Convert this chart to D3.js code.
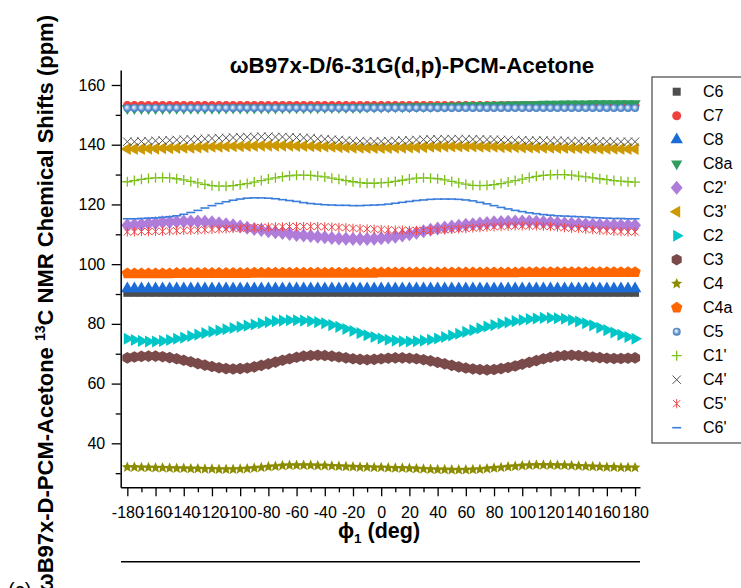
<!DOCTYPE html>
<html>
<head>
<meta charset="utf-8">
<script src="https://cdn.jsdelivr.net/npm/d3@7"></script>
<style>
  body { margin: 0; background: #fff; }
  svg { display: block; }
  text { font-family: "Liberation Sans", Arial, sans-serif; fill: #000; }
</style>
</head>
<body>
<svg id="chart" width="741" height="588"></svg>
<script>
// Torsion angle phi1 (deg)
const phi = [-180,-175,-170,-165,-160,-155,-150,-145,-140,-135,
  -130,-125,-120,-115,-110,-105,-100,-95,-90,-85,
  -80,-75,-70,-65,-60,-55,-50,-45,-40,-35,
  -30,-25,-20,-15,-10,-5,0,5,10,15,
  20,25,30,35,40,45,50,55,60,65,
  70,75,80,85,90,95,100,105,110,115,
  120,125,130,135,140,145,150,155,160,165,
  170,175,180];

const xTicks = [-180,-160,-140,-120,-100,-80,-60,-40,-20,0,20,40,60,80,100,120,140,160,180];
const xMinorTicks = [-170,-150,-130,-110,-90,-70,-50,-30,-10,10,30,50,70,90,110,130,150,170];
const yTicks = [40,60,80,100,120,140,160];
const yMinorTicks = [30,50,70,90,110,130,150];

const seriesNames = ["C6","C7","C8","C8a","C2'","C3'","C2","C3","C4","C4a","C5","C1'","C4'","C5'","C6'"];

// 13C shifts (ppm) for each carbon along the phi1 scan
const C6 = [90.4,90.4,90.4,90.4,90.4,90.4,90.4,90.4,90.4,90.4,
  90.4,90.4,90.4,90.4,90.4,90.4,90.4,90.4,90.4,90.4,
  90.4,90.4,90.4,90.4,90.4,90.4,90.4,90.4,90.4,90.4,
  90.4,90.4,90.4,90.4,90.4,90.4,90.4,90.4,90.4,90.4,
  90.4,90.4,90.4,90.4,90.4,90.4,90.4,90.4,90.4,90.4,
  90.4,90.4,90.4,90.4,90.4,90.4,90.4,90.4,90.4,90.4,
  90.4,90.4,90.4,90.4,90.4,90.4,90.4,90.4,90.4,90.4,
  90.4,90.4,90.4];
const C7 = [153.1,153.1,153.1,153.1,153.1,153.1,153.1,153.1,153.1,153.1,
  153.1,153.1,153.1,153.1,153.1,153.1,153.1,153.1,153.1,153.1,
  153.1,153.1,153.1,153.1,153.1,153.1,153.1,153.1,153.1,153.1,
  153.1,153.1,153.1,153.1,153.1,153.1,153.1,153.1,153.1,153.1,
  153.1,153.1,153.1,153.1,153.1,153.1,153.1,153.1,153.1,153.1,
  153.1,153.1,153.1,153.1,153.1,153.1,153.1,153.1,153.1,153.1,
  153.1,153.1,153.1,153.1,153.1,153.1,153.1,153.1,153.1,153.1,
  153.1,153.1,153.1];
const C8 = [91.8,91.8,91.8,91.8,91.8,91.8,91.8,91.8,91.8,91.8,
  91.8,91.8,91.8,91.8,91.8,91.8,91.8,91.8,91.8,91.8,
  91.8,91.8,91.8,91.8,91.8,91.8,91.8,91.8,91.8,91.8,
  91.8,91.8,91.8,91.8,91.8,91.8,91.8,91.8,91.8,91.8,
  91.8,91.8,91.8,91.8,91.8,91.8,91.8,91.8,91.8,91.8,
  91.8,91.8,91.8,91.8,91.8,91.8,91.8,91.8,91.8,91.8,
  91.8,91.8,91.8,91.8,91.8,91.8,91.8,91.8,91.8,91.8,
  91.8,91.8,91.8];
const C8a = [152.1,152.1,152.1,152.1,152.1,152.1,152.2,152.2,152.2,152.2,
  152.2,152.2,152.2,152.2,152.3,152.3,152.3,152.3,152.3,152.3,
  152.3,152.3,152.4,152.4,152.4,152.4,152.4,152.4,152.5,152.5,
  152.5,152.5,152.5,152.5,152.6,152.6,152.6,152.6,152.7,152.7,
  152.7,152.8,152.8,152.8,152.9,152.9,153.0,153.0,153.1,153.1,
  153.2,153.2,153.3,153.3,153.4,153.4,153.5,153.5,153.5,153.6,
  153.6,153.6,153.7,153.7,153.7,153.7,153.8,153.8,153.8,153.8,
  153.8,153.8,153.8];
const C2p = [113.0,113.2,113.4,113.6,113.8,114.0,114.1,114.2,114.3,114.3,
  114.3,114.2,114.0,113.7,113.4,113.0,112.6,112.2,111.8,111.4,
  111.0,110.7,110.4,110.1,109.8,109.6,109.4,109.2,109.0,108.8,
  108.6,108.5,108.4,108.4,108.4,108.5,108.7,108.9,109.2,109.6,
  110.0,110.5,111.0,111.5,111.9,112.3,112.6,112.9,113.2,113.4,
  113.6,113.8,114.0,114.1,114.2,114.3,114.3,114.3,114.2,114.1,
  114.0,113.9,113.7,113.6,113.5,113.4,113.3,113.2,113.1,113.1,
  113.0,113.0,113.0];
const C3p = [138.6,138.6,138.6,138.7,138.7,138.8,138.8,138.9,139.0,139.0,
  139.1,139.2,139.3,139.3,139.4,139.5,139.5,139.6,139.6,139.7,
  139.7,139.7,139.7,139.7,139.6,139.6,139.5,139.4,139.4,139.3,
  139.2,139.1,139.0,139.0,138.9,138.9,138.9,138.9,139.0,139.0,
  139.1,139.1,139.2,139.3,139.3,139.4,139.4,139.4,139.4,139.4,
  139.3,139.3,139.3,139.2,139.2,139.2,139.1,139.1,139.0,139.0,
  139.0,138.9,138.9,138.9,138.8,138.8,138.8,138.7,138.7,138.7,
  138.6,138.6,138.6];
const C2 = [75.0,74.6,74.3,74.1,74.1,74.3,74.6,75.0,75.4,75.9,
  76.4,76.9,77.4,77.8,78.2,78.6,79.0,79.4,79.8,80.2,
  80.6,80.9,81.1,81.2,81.2,81.1,80.9,80.6,80.2,79.6,
  79.0,78.3,77.6,76.9,76.2,75.6,75.1,74.7,74.4,74.2,
  74.1,74.2,74.4,74.7,75.1,75.6,76.1,76.7,77.3,77.9,
  78.5,79.1,79.6,80.1,80.5,80.9,81.3,81.6,81.8,82.0,
  82.0,81.9,81.7,81.3,80.8,80.2,79.5,78.7,77.9,77.1,
  76.3,75.6,75.0];
const C3 = [68.6,68.9,69.1,69.2,69.2,69.0,68.7,68.3,67.8,67.3,
  66.7,66.2,65.7,65.3,65.0,64.9,65.0,65.2,65.6,66.1,
  66.6,67.2,67.8,68.3,68.8,69.2,69.4,69.5,69.4,69.2,
  68.9,68.6,68.3,68.1,68.0,68.1,68.3,68.5,68.6,68.6,
  68.5,68.3,68.0,67.6,67.1,66.6,66.1,65.6,65.2,64.9,
  64.7,64.6,64.7,65.0,65.4,65.9,66.5,67.1,67.7,68.3,
  68.8,69.2,69.4,69.5,69.4,69.2,68.9,68.7,68.5,68.4,
  68.4,68.5,68.6];
const C4 = [32.0,32.0,31.9,31.9,31.8,31.8,31.7,31.6,31.6,31.5,
  31.5,31.4,31.4,31.3,31.3,31.3,31.4,31.5,31.7,31.9,
  32.1,32.3,32.5,32.6,32.6,32.6,32.6,32.5,32.5,32.4,
  32.3,32.2,32.1,32.0,32.0,31.9,31.9,31.8,31.7,31.7,
  31.6,31.5,31.4,31.3,31.2,31.2,31.1,31.1,31.1,31.2,
  31.3,31.5,31.7,31.9,32.1,32.3,32.5,32.6,32.7,32.7,
  32.7,32.6,32.6,32.5,32.4,32.3,32.2,32.1,32.0,32.0,
  31.9,31.9,31.9];
const C4a = [96.9,96.9,96.9,96.9,96.9,96.9,96.9,97.0,97.0,97.0,
  97.0,97.0,97.0,97.0,97.0,97.0,97.0,97.0,97.1,97.1,
  97.1,97.1,97.1,97.1,97.1,97.1,97.1,97.1,97.1,97.1,
  97.1,97.1,97.1,97.1,97.1,97.1,97.2,97.2,97.2,97.2,
  97.2,97.2,97.2,97.2,97.2,97.2,97.2,97.2,97.2,97.2,
  97.2,97.2,97.2,97.2,97.2,97.2,97.3,97.3,97.3,97.3,
  97.3,97.3,97.3,97.3,97.3,97.3,97.3,97.3,97.3,97.3,
  97.3,97.3,97.3];
const C5 = [152.3,152.3,152.3,152.3,152.3,152.3,152.3,152.3,152.3,152.3,
  152.3,152.3,152.3,152.3,152.3,152.3,152.3,152.3,152.3,152.3,
  152.3,152.3,152.3,152.3,152.3,152.3,152.3,152.3,152.3,152.3,
  152.3,152.3,152.3,152.3,152.3,152.3,152.3,152.3,152.3,152.3,
  152.3,152.3,152.3,152.3,152.3,152.3,152.3,152.3,152.3,152.3,
  152.3,152.3,152.3,152.3,152.3,152.3,152.3,152.3,152.3,152.3,
  152.3,152.3,152.3,152.3,152.3,152.3,152.3,152.3,152.3,152.3,
  152.3,152.3,152.3];
const C1p = [127.6,128.0,128.4,128.7,128.9,129.0,128.9,128.6,128.2,127.7,
  127.2,126.7,126.3,126.1,126.1,126.3,126.6,127.0,127.5,128.0,
  128.5,128.9,129.3,129.6,129.8,129.8,129.7,129.5,129.2,128.8,
  128.4,128.0,127.6,127.3,127.1,127.1,127.2,127.4,127.7,128.1,
  128.5,128.8,128.9,128.8,128.6,128.2,127.7,127.2,126.8,126.4,
  126.3,126.4,126.6,127.0,127.5,128.0,128.5,129.0,129.4,129.7,
  129.9,130.0,130.0,129.8,129.5,129.2,128.9,128.6,128.3,128.0,
  127.8,127.6,127.5];
const C4p = [141.0,141.0,141.1,141.2,141.3,141.4,141.5,141.6,141.7,141.8,
  141.9,142.0,142.1,142.2,142.3,142.4,142.5,142.6,142.6,142.7,
  142.7,142.6,142.6,142.5,142.4,142.3,142.2,142.0,141.9,141.7,
  141.6,141.4,141.3,141.2,141.1,141.1,141.1,141.2,141.3,141.4,
  141.5,141.6,141.7,141.8,141.8,141.9,141.9,141.9,141.9,141.8,
  141.8,141.7,141.7,141.6,141.6,141.5,141.5,141.4,141.4,141.4,
  141.3,141.3,141.3,141.2,141.2,141.2,141.1,141.1,141.1,141.0,
  141.0,141.0,141.0];
const C5p = [110.8,110.8,110.9,110.9,111.0,111.0,111.1,111.2,111.3,111.3,
  111.4,111.5,111.6,111.7,111.8,111.9,112.0,112.1,112.2,112.3,
  112.4,112.5,112.5,112.6,112.6,112.6,112.6,112.6,112.5,112.4,
  112.3,112.2,112.0,111.9,111.8,111.7,111.6,111.5,111.4,111.4,
  111.3,111.3,111.3,111.3,111.4,111.5,111.6,111.8,111.9,112.1,
  112.2,112.4,112.5,112.6,112.7,112.8,112.8,112.8,112.8,112.7,
  112.6,112.4,112.2,112.0,111.9,111.7,111.5,111.3,111.2,111.0,
  110.9,110.8,110.8];
const C6p = [115.2,115.2,115.3,115.4,115.5,115.7,115.9,116.2,116.7,117.3,
  118.0,118.8,119.6,120.3,120.9,121.4,121.8,122.1,122.2,122.2,
  122.1,121.9,121.6,121.3,121.0,120.6,120.3,120.1,119.9,119.8,
  119.7,119.7,119.6,119.6,119.7,119.8,119.9,120.1,120.4,120.7,
  121.0,121.3,121.5,121.7,121.8,121.8,121.8,121.7,121.5,121.2,
  120.7,120.2,119.6,119.0,118.5,118.0,117.6,117.2,116.9,116.6,
  116.4,116.2,116.1,116.0,115.9,115.8,115.6,115.5,115.4,115.3,
  115.3,115.2,115.2];

const seriesValues = [C6, C7, C8, C8a, C2p, C3p, C2, C3, C4, C4a, C5, C1p, C4p, C5p, C6p];

// Marker look for each series (same order as seriesNames)
const markerStyles = [
  { shape: "square",   size: 4,   fill: "#4d4d4d" },
  { shape: "circle",   size: 4.5, fill: "#f0413e" },
  { shape: "up",       size: 7.2, fill: "#1c6cd8" },
  { shape: "down",     size: 6.5, fill: "#2f9d5e" },
  { shape: "diamond",  size: 7,   fill: "#b07cda" },
  { shape: "left",     size: 7,   fill: "#cc9a00" },
  { shape: "right",    size: 7,   fill: "#00c6c8" },
  { shape: "hexagon",  size: 5.8, fill: "#7a4a4a" },
  { shape: "star",     size: 5.8, fill: "#8c8c00" },
  { shape: "pentagon", size: 6,   fill: "#ff6600" },
  { shape: "sphere",   size: 4,   fill: "url(#sphere)" },
  { shape: "plus",     size: 5,   stroke: "#7cc11a", width: 1.3 },
  { shape: "x",        size: 4.2, stroke: "#555555", width: 1 },
  { shape: "asterisk", size: 4.6, stroke: "#f04545", width: 1 },
  { shape: "dash",     size: 4.5, stroke: "#3b7ddd", width: 1.6 }
];

function polygon(n, R, rotDeg) {
  const p = d3.path();
  for (let k = 0; k < n; k++) {
    const a = (rotDeg + k * 360 / n) * Math.PI / 180;
    const px = R * Math.cos(a), py = R * Math.sin(a);
    if (k === 0) p.moveTo(px, py); else p.lineTo(px, py);
  }
  p.closePath();
  return p.toString();
}

function markerPath(shape, r) {
  const p = d3.path();
  switch (shape) {
    case "square": p.rect(-r, -r, 2 * r, 2 * r); return p.toString();
    case "circle":
    case "sphere": p.arc(0, 0, r, 0, 2 * Math.PI); return p.toString();
    case "up": return polygon(3, r, -90);
    case "down": return polygon(3, r, 90);
    case "left": return polygon(3, r, 180);
    case "right": return polygon(3, r, 0);
    case "hexagon": return polygon(6, r, -90);
    case "pentagon": return polygon(5, r, -90);
    case "diamond":
      p.moveTo(0, -r); p.lineTo(r * 0.85, 0); p.lineTo(0, r); p.lineTo(-r * 0.85, 0); p.closePath();
      return p.toString();
    case "star": {
      for (let k = 0; k < 10; k++) {
        const a = (-90 + k * 36) * Math.PI / 180;
        const rr = k % 2 === 0 ? r : r * 0.45;
        if (k === 0) p.moveTo(rr * Math.cos(a), rr * Math.sin(a));
        else p.lineTo(rr * Math.cos(a), rr * Math.sin(a));
      }
      p.closePath();
      return p.toString();
    }
    case "plus":
      p.moveTo(-r, 0); p.lineTo(r, 0); p.moveTo(0, -r); p.lineTo(0, r);
      return p.toString();
    case "x":
      p.moveTo(-r, -r); p.lineTo(r, r); p.moveTo(-r, r); p.lineTo(r, -r);
      return p.toString();
    case "asterisk": {
      const d = r * 0.78;
      p.moveTo(0, -r); p.lineTo(0, r);
      p.moveTo(-d, -d); p.lineTo(d, d); p.moveTo(-d, d); p.lineTo(d, -d);
      return p.toString();
    }
    case "dash":
      p.moveTo(-r, 0); p.lineTo(r, 0);
      return p.toString();
  }
}

function styleMarker(sel, st) {
  if (st.stroke) {
    sel.attr("fill", "none").attr("stroke", st.stroke).attr("stroke-width", st.width);
  } else {
    sel.attr("fill", st.fill).attr("stroke", "none");
  }
}

const svg = d3.select("#chart");

const defs = svg.append("defs");
const grad = defs.append("radialGradient").attr("id", "sphere")
  .attr("cx", "0.5").attr("cy", "0.5").attr("r", "0.55").attr("fx", "0.42").attr("fy", "0.4");
grad.append("stop").attr("offset", "0").attr("stop-color", "#ffffff");
grad.append("stop").attr("offset", "0.3").attr("stop-color", "#b5d0ee");
grad.append("stop").attr("offset", "0.65").attr("stop-color", "#5d93d0");
grad.append("stop").attr("offset", "1").attr("stop-color", "#3f74b4");

const x = d3.scaleLinear().domain([-184.7, 183.5]).range([120.7, 640]);
const y = d3.scaleLinear().domain([25.27, 165.02]).range([487.3, 70]);

// Series markers, drawn in legend order so later carbons sit on top
const plot = svg.append("g");
seriesNames.forEach((name, si) => {
  const st = markerStyles[si];
  const d = markerPath(st.shape, st.size);
  const g = plot.append("g").attr("class", "series");
  const marks = g.selectAll("path").data(phi.map((p, i) => [p, seriesValues[si][i]]))
    .join("path")
    .attr("d", d)
    .attr("transform", v => `translate(${x(v[0])},${y(v[1])})`);
  styleMarker(marks, st);
});

// Axes
function styleAxis(g) {
  g.selectAll("path.domain").attr("stroke", "#000").attr("stroke-width", 1.5);
  g.selectAll(".tick line").attr("stroke", "#000").attr("stroke-width", 1.3);
  g.selectAll(".tick text").attr("font-size", 16).attr("fill", "#000")
    .attr("font-family", '"Liberation Sans", Arial, sans-serif');
}

const yAxis = svg.append("g").attr("transform", "translate(120.7,0)")
  .call(d3.axisLeft(y).tickValues(yTicks).tickSize(9).tickSizeOuter(0).tickPadding(6.5));
styleAxis(yAxis);
const yMinor = svg.append("g").attr("transform", "translate(120.7,0)")
  .call(d3.axisLeft(y).tickValues(yMinorTicks).tickSize(5).tickSizeOuter(0).tickFormat(""));
styleAxis(yMinor);
yMinor.select("path.domain").remove();

const xAxis = svg.append("g").attr("transform", "translate(0,487.3)")
  .call(d3.axisBottom(x).tickValues(xTicks).tickSize(9).tickSizeOuter(0).tickPadding(10.5)
    .tickFormat(d => String(d)));
styleAxis(xAxis);
const xMinor = svg.append("g").attr("transform", "translate(0,487.3)")
  .call(d3.axisBottom(x).tickValues(xMinorTicks).tickSize(5).tickSizeOuter(0).tickFormat(""));
styleAxis(xMinor);
xMinor.select("path.domain").remove();

// Titles
svg.append("text").attr("x", 412).attr("y", 73).attr("text-anchor", "middle")
  .attr("font-size", 22.3).attr("font-weight", "bold")
  .text("ωB97x-D/6-31G(d,p)-PCM-Acetone");

const yl = svg.append("text").attr("transform", "translate(53,15) rotate(-90)")
  .attr("text-anchor", "end").attr("font-size", 22).attr("font-weight", "bold");
yl.append("tspan").text("ωB97x-D-PCM-Acetone ");
yl.append("tspan").attr("font-size", 14).attr("dy", -8).text("13");
yl.append("tspan").attr("dy", 8).text("C NMR Chemical Shifts (ppm)");

const xl = svg.append("text").attr("x", 379).attr("y", 538).attr("text-anchor", "middle")
  .attr("font-size", 21.5).attr("font-weight", "bold");
xl.append("tspan").text("ϕ");
xl.append("tspan").attr("font-size", 13.5).attr("dy", 5).text("1");
xl.append("tspan").attr("dy", -5).text(" (deg)");

// Separator rule and panel tag
svg.append("line").attr("x1", 121).attr("x2", 640).attr("y1", 561.7).attr("y2", 561.7)
  .attr("stroke", "#000").attr("stroke-width", 1.5);
svg.append("text").attr("x", 8).attr("y", 597).attr("font-size", 20).text("(c)");

// Legend
const legend = svg.append("g");
legend.append("rect").attr("x", 652).attr("y", 77).attr("width", 100).attr("height", 366)
  .attr("fill", "#fff").attr("stroke", "#555").attr("stroke-width", 1.3);
seriesNames.forEach((name, si) => {
  const st = markerStyles[si];
  const cy = 91.7 + si * 24;
  const m = legend.append("path").attr("d", markerPath(st.shape, st.size))
    .attr("transform", `translate(676.7,${cy})`);
  styleMarker(m, st);
  legend.append("text").attr("x", 703).attr("y", cy).attr("dy", "0.35em")
    .attr("font-size", 16).text(name);
});
</script>
</body>
</html>
